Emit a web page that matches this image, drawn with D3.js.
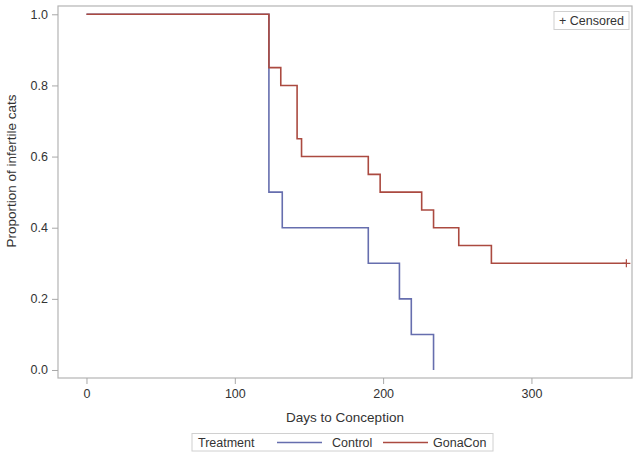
<!DOCTYPE html>
<html><head><meta charset="utf-8">
<script src="https://cdn.jsdelivr.net/npm/d3@7"></script>
<style>
html,body{margin:0;padding:0;background:#fff;}
svg{display:block;font-family:"Liberation Sans",Arial,sans-serif;}
</style></head>
<body>
<svg id="chart" width="639" height="458"></svg>
<script>
const controlTimes = [0, 123, 132, 190, 211, 219, 234];
const controlSurv  = [1.0, 0.5, 0.4, 0.3, 0.2, 0.1, 0.0];
const gonaTimes = [0, 123, 131, 142, 145, 190, 198, 226, 234, 251, 273, 364];
const gonaSurv  = [1.0, 0.85, 0.8, 0.65, 0.6, 0.55, 0.5, 0.45, 0.4, 0.35, 0.3, 0.3];
const censoredTimes = [364];
const censoredSurv = [0.3];
const xTicks = [0, 100, 200, 300];
const yTicks = [0.0, 0.2, 0.4, 0.6, 0.8, 1.0];
const seriesNames = ["Control", "GonaCon"];
const colors = {Control: "#666eae", GonaCon: "#ab4a40"};

const svg = d3.select("#chart");
const L = 58, R = 632, T = 6, B = 378;
const x = d3.scaleLinear().domain([-19.2, 367.8]).range([L, R]);
const y = d3.scaleLinear().domain([-0.0225, 1.0233]).range([B, T]);

// frame
svg.append("rect").attr("x", L).attr("y", T).attr("width", R - L).attr("height", B - T)
  .attr("fill", "none").attr("stroke", "#b4b4b4").attr("stroke-width", 1.2);

// axes
const xAxis = svg.append("g").attr("transform", `translate(0,${B})`)
  .call(d3.axisBottom(x).tickValues(xTicks).tickFormat(d3.format("d")).tickSize(6).tickPadding(5));
const yAxis = svg.append("g").attr("transform", `translate(${L},0)`)
  .call(d3.axisLeft(y).tickValues(yTicks).tickFormat(d3.format(".1f")).tickSize(6).tickPadding(4));
[xAxis, yAxis].forEach(g => {
  g.select(".domain").remove();
  g.selectAll(".tick line").attr("stroke", "#a8a8a8");
  g.selectAll(".tick text").attr("fill", "#333").style("font-size", "12.5px")
   .style("font-family", "'Liberation Sans',Arial,sans-serif");
});

// axis labels
svg.append("text").attr("x", 345).attr("y", 422).attr("text-anchor", "middle")
  .attr("fill", "#333").style("font-size", "13.5px").text("Days to Conception");
svg.append("text").attr("transform", "translate(16,171) rotate(-90)").attr("text-anchor", "middle")
  .attr("fill", "#333").style("font-size", "13.5px").text("Proportion of infertile cats");

// curves
const line = d3.line().x(d => x(d[0])).y(d => y(d[1])).curve(d3.curveStepAfter);
const curves = {
  Control: controlTimes.map((t, i) => [t, controlSurv[i]]),
  GonaCon: gonaTimes.map((t, i) => [t, gonaSurv[i]])
};
seriesNames.forEach(name => {
  svg.append("path").datum(curves[name]).attr("d", line)
    .attr("fill", "none").attr("stroke", colors[name]).attr("stroke-width", 1.6);
});

// censored marks
censoredTimes.forEach((t, i) => {
  const cx = x(t), cy = y(censoredSurv[i]);
  svg.append("path").attr("d", `M${cx-4},${cy}H${cx+4}M${cx},${cy-4}V${cy+4}`)
    .attr("stroke", colors.GonaCon).attr("stroke-width", 1.2);
});

// censored legend
svg.append("rect").attr("x", 554).attr("y", 11.5).attr("width", 75).attr("height", 18)
  .attr("fill", "#fff").attr("stroke", "#d0d0d0");
svg.append("text").attr("x", 559).attr("y", 25).attr("fill", "#333").style("font-size", "12.5px").text("+ Censored");

// bottom legend
const lg = svg.append("g");
lg.append("rect").attr("x", 192).attr("y", 433.5).attr("width", 301).attr("height", 17.5)
  .attr("fill", "#fff").attr("stroke", "#d0d0d0");
lg.append("text").attr("x", 198).attr("y", 447).attr("fill", "#333").style("font-size", "12.5px").text("Treatment");
const legItems = [{name: "Control", x1: 277, x2: 322, tx: 332}, {name: "GonaCon", x1: 383, x2: 428, tx: 433}];
legItems.forEach(it => {
  lg.append("line").attr("x1", it.x1).attr("x2", it.x2).attr("y1", 442.5).attr("y2", 442.5)
    .attr("stroke", colors[it.name]).attr("stroke-width", 1.6);
  lg.append("text").attr("x", it.tx).attr("y", 447).attr("fill", "#333").style("font-size", "12.5px").text(it.name);
});
</script>
</body></html>
